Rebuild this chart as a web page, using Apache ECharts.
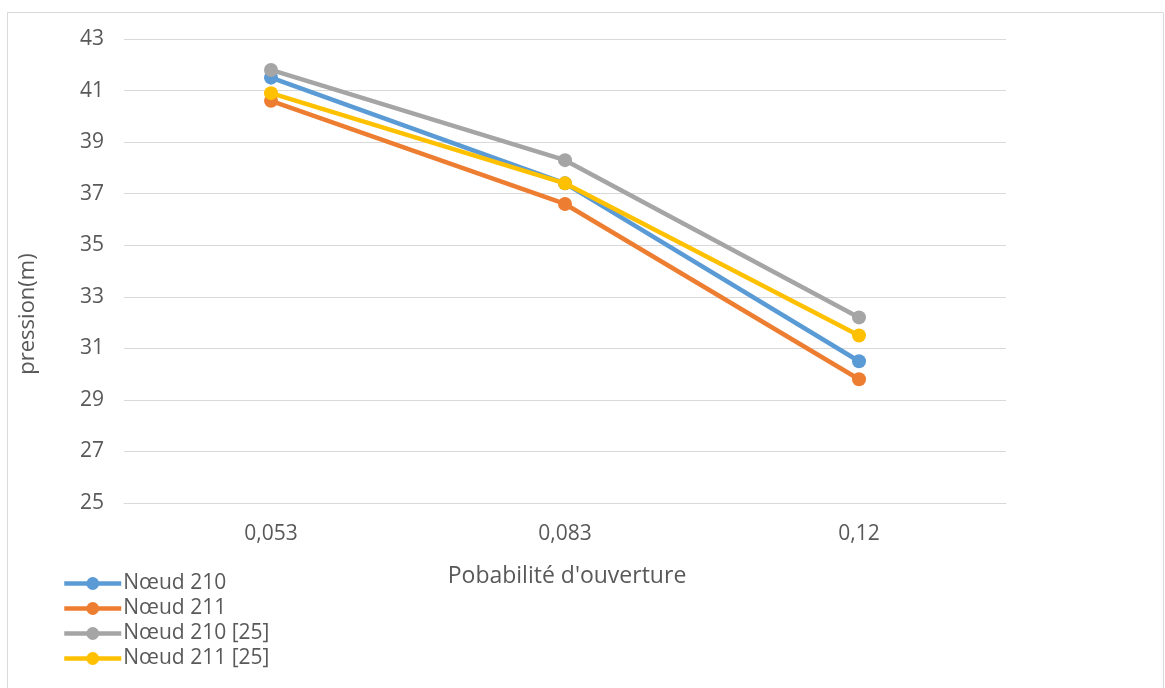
<!DOCTYPE html>
<html>
<head>
<meta charset="utf-8">
<script src="https://cdn.jsdelivr.net/npm/echarts@6/dist/echarts.min.js"></script>
<style>
  html, body { margin: 0; padding: 0; background: #fff; }
  #chart { width: 1165px; height: 688px; }
</style>
</head>
<body>
<div id="chart"></div>
<script>
// Opening probability categories
const categories = ['0,053', '0,083', '0,12'];

// Pressure (m) per node
const noeud210 = [41.5, 37.4, 30.5];
const noeud211 = [40.6, 36.6, 29.8];
const noeud210Ref = [41.8, 38.3, 32.2];
const noeud211Ref = [40.9, 37.4, 31.5];

const seriesNames = ['Nœud 210', 'Nœud 211', 'Nœud 210 [25]', 'Nœud 211 [25]'];
const seriesColors = ['#5B9BD5', '#ED7D31', '#A5A5A5', '#FFC000'];
const seriesData = [noeud210, noeud211, noeud210Ref, noeud211Ref];

const FONT = '"Open Sans", "Liberation Sans", sans-serif';

const chart = echarts.init(document.getElementById('chart'));

chart.setOption({
  backgroundColor: '#fff',
  animation: false,
  color: seriesColors,
  textStyle: { fontFamily: FONT },
  grid: { left: 124, right: 159, top: 39, bottom: 185, containLabel: false },
  graphic: [
    {
      type: 'rect',
      shape: { x: 7.5, y: 12.5, width: 1156, height: 700 },
      style: { fill: 'none', stroke: '#D9D9D9', lineWidth: 1 },
      silent: true
    },
    {
      type: 'text',
      x: 28, y: 314,
      rotation: Math.PI / 2,
      style: {
        text: 'pression(m)',
        fill: '#595959',
        font: '22px ' + FONT,
        align: 'center',
        verticalAlign: 'middle'
      }
    },
    {
      type: 'text',
      x: 567, y: 576,
      style: {
        text: "Pobabilité d'ouverture",
        fill: '#595959',
        font: '23px ' + FONT,
        align: 'center',
        verticalAlign: 'middle'
      }
    }
  ],
  legend: {
    orient: 'vertical',
    left: 62,
    top: 573,
    itemWidth: 57,
    itemHeight: 16,
    itemGap: 4,
    padding: 0,
    data: seriesNames,
    lineStyle: { width: 4.5 },
    textStyle: { color: '#595959', fontSize: 21, fontFamily: FONT, padding: [0, 0, 0, -3] }
  },
  xAxis: {
    type: 'category',
    data: categories,
    boundaryGap: true,
    axisLine: { show: true, lineStyle: { color: '#D9D9D9', width: 1 } },
    axisTick: { show: false },
    axisLabel: { color: '#595959', fontSize: 21, fontFamily: FONT, margin: 21 },
    splitLine: { show: false }
  },
  yAxis: {
    type: 'value',
    min: 25,
    max: 43,
    interval: 2,
    axisLine: { show: false },
    axisTick: { show: false },
    axisLabel: { color: '#595959', fontSize: 21, fontFamily: FONT, margin: 20 },
    splitLine: { lineStyle: { color: '#D9D9D9', width: 1 } }
  },
  series: seriesData.map((d, i) => ({
    name: seriesNames[i],
    type: 'line',
    data: d,
    symbol: 'circle',
    symbolSize: 14,
    lineStyle: { width: 4.5, color: seriesColors[i] },
    itemStyle: { color: seriesColors[i] },
    z: 2 + i
  }))
});
</script>
</body>
</html>
